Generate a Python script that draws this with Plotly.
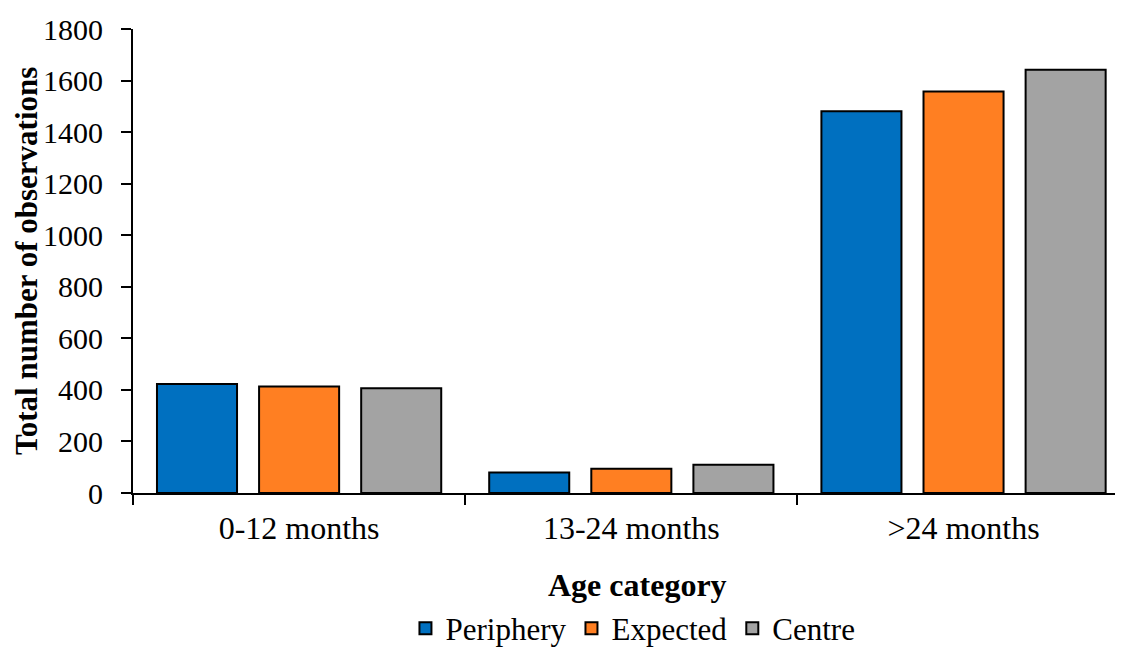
import plotly.graph_objects as go

categories = ["0-12 months", "13-24 months", ">24 months"]
periphery = [423, 80, 1481]
expected = [413, 94, 1558]
centre = [406, 110, 1642]
y_ticks = [0, 200, 400, 600, 800, 1000, 1200, 1400, 1600, 1800]

FONT = "Liberation Serif, Times New Roman, serif"
FS = 32

fig = go.Figure()
for name, vals, col in [("Periphery", periphery, "#0070C0"),
                        ("Expected", expected, "#FF7F22"),
                        ("Centre", centre, "#A3A3A3")]:
    fig.add_trace(go.Bar(x=categories, y=vals, name=name,
                         marker=dict(color=col, line=dict(color="black", width=2))))

# page body adds ~8px offset; figure sized to fit inside the 1123x648 window
fig.update_layout(
    width=1115, height=640,
    paper_bgcolor="white", plot_bgcolor="white",
    margin=dict(l=125, r=0, t=21, b=155, autoexpand=False),
    barmode="group", bargap=0.078, bargroupgap=0.216,
    font=dict(family=FONT, size=FS, color="black"),
    legend=dict(orientation="h", x=0.505, xanchor="center", y=-0.292, yanchor="middle",
                font=dict(size=31), traceorder="normal"),
    showlegend=True,
    annotations=[
        dict(text="<b>Age category</b>", xref="paper", yref="paper", x=0.51, y=-0.198,
             xanchor="center", yanchor="middle", showarrow=False, font=dict(size=FS)),
        dict(text="<b>Total number of observations</b>", xref="paper", yref="paper",
             x=-0.108, y=0.5, xanchor="center", yanchor="middle", textangle=-90,
             showarrow=False, font=dict(size=31)),
    ],
)
fig.update_xaxes(range=[-0.5, 2.48], showline=True, linecolor="black", linewidth=2,
                 ticks="outside", tickson="boundaries", ticklen=10, tickwidth=2,
                 tickcolor="black", showgrid=False, automargin=False,
                 ticklabelstandoff=6, tickfont=dict(size=FS))
fig.update_yaxes(range=[0, 1800], tickvals=y_ticks, showline=True, linecolor="black",
                 linewidth=2, ticks="outside", ticklen=10, tickwidth=2, tickcolor="black",
                 showgrid=False, zeroline=False, automargin=False,
                 ticklabelstandoff=12, tickfont=dict(size=30))
fig.write_html("out.html")
